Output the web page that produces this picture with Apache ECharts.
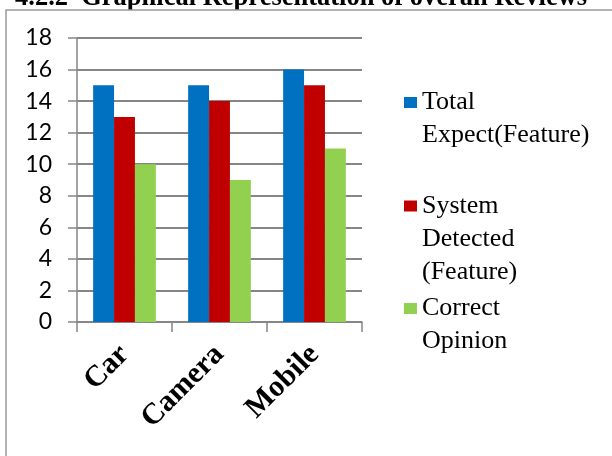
<!DOCTYPE html>
<html>
<head>
<meta charset="utf-8">
<script src="https://cdn.jsdelivr.net/npm/echarts@6/dist/echarts.min.js"></script>
<style>
  html, body { margin: 0; padding: 0; background: #fff; }
  #chart { width: 612px; height: 456px; }
</style>
</head>
<body>
<div id="chart"></div>
<script>
// Products reviewed
const categories = ['Car', 'Camera', 'Mobile'];

// Feature counts per product
const totalExpected = [15, 15, 16];
const systemDetected = [13, 14, 15];
const correctOpinion = [10, 9, 11];

// Value axis ticks
const yTicks = [0, 2, 4, 6, 8, 10, 12, 14, 16, 18];

const seriesNames = ['Total Expect(Feature)', 'System Detected (Feature)', 'Correct Opinion'];
const legendLines = {
  'Total Expect(Feature)': ['Total', 'Expect(Feature)'],
  'System Detected (Feature)': ['System', 'Detected', '(Feature)'],
  'Correct Opinion': ['Correct', 'Opinion']
};
const colors = ['#0070C0', '#C00000', '#92D050'];

const serif = '"Liberation Serif", "Times New Roman", serif';
const LINE_H = 33;

// Legend text is centred on its marker, so blank lines are put in front of the
// wrapped name to keep the marker level with the first line.
function legendFor(name, markerCenterY) {
  const lines = legendLines[name];
  const padded = new Array(lines.length - 1).fill(' ').concat(lines);
  return {
    data: [name],
    left: 404,
    top: markerCenterY - padded.length * LINE_H / 2,
    orient: 'vertical',
    padding: 0,
    itemWidth: 13,
    itemHeight: 11,
    itemGap: 0,
    icon: 'rect',
    selectedMode: false,
    formatter: () => padded.join('\n'),
    textStyle: {
      fontFamily: serif,
      fontSize: 26,
      color: '#000',
      lineHeight: LINE_H
    }
  };
}

const chart = echarts.init(document.getElementById('chart'), null, { renderer: 'canvas' });

chart.setOption({
  animation: false,
  color: colors,
  graphic: [
    {
      type: 'text',
      x: 15,
      y: 12,
      z: -2,
      style: {
        text: '4.2.2  Graphical Representation of overall Reviews',
        font: 'bold 26.5px ' + serif,
        fill: '#000',
        verticalAlign: 'bottom'
      },
      silent: true
    },
    {
      type: 'rect',
      z: -1,
      shape: { x: 6, y: 10, width: 640, height: 480 },
      style: { fill: '#fff', stroke: '#9a9a9a', lineWidth: 1.5 },
      silent: true
    }
  ],
  grid: { left: 77, right: 250, top: 38, bottom: 134 },
  legend: [
    legendFor(seriesNames[0], 102.5),
    legendFor(seriesNames[1], 206),
    legendFor(seriesNames[2], 308.5)
  ],
  xAxis: {
    type: 'category',
    data: categories,
    axisLine: { lineStyle: { color: '#868686', width: 1.5 } },
    axisTick: { show: true, length: 10, lineStyle: { color: '#868686', width: 1.5 } },
    axisLabel: {
      interval: 0,
      rotate: 45,
      margin: 28,
      fontFamily: serif,
      fontWeight: 'bold',
      fontSize: 30,
      color: '#000'
    }
  },
  yAxis: {
    type: 'value',
    min: yTicks[0],
    max: yTicks[yTicks.length - 1],
    interval: yTicks[1] - yTicks[0],
    axisLine: { show: true, lineStyle: { color: '#868686', width: 1.5 } },
    axisTick: { show: true, length: 9, lineStyle: { color: '#868686', width: 1.5 } },
    splitLine: { lineStyle: { color: '#868686', width: 2 } },
    axisLabel: {
      margin: 25,
      fontFamily: 'Lato, "Open Sans", sans-serif',
      fontSize: 23,
      color: '#000'
    }
  },
  series: [
    { name: seriesNames[0], type: 'bar', data: totalExpected, barGap: '0%', barCategoryGap: '34%' },
    { name: seriesNames[1], type: 'bar', data: systemDetected, barGap: '0%', barCategoryGap: '34%' },
    { name: seriesNames[2], type: 'bar', data: correctOpinion, barGap: '0%', barCategoryGap: '34%' }
  ]
});
</script>
</body>
</html>
